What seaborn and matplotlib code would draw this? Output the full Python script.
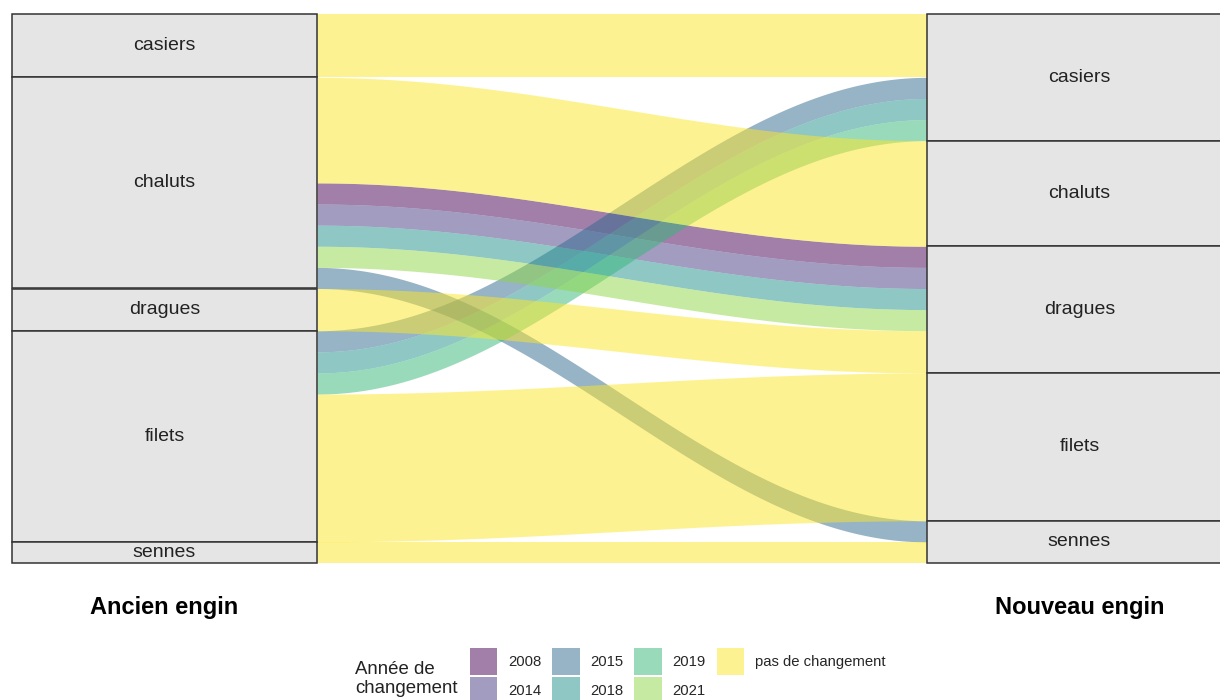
import numpy as np
import pandas as pd
import matplotlib
matplotlib.use("Agg")
import matplotlib.pyplot as plt
from matplotlib.patches import Patch
import seaborn as sns

# ---------------- data ----------------
gears = ["casiers", "chaluts", "dragues", "filets", "sennes"]
years = ["2008", "2014", "2015", "2018", "2019", "2021", "pas de changement"]
year_colors = ["#440154", "#443A83", "#31688E", "#21908C", "#35B779", "#8FD744", "#FDE725"]

flow_from = ["casiers", "chaluts", "chaluts", "chaluts", "chaluts", "chaluts", "chaluts",
             "dragues", "filets", "filets", "filets", "filets", "sennes"]
flow_to = ["casiers", "chaluts", "dragues", "dragues", "dragues", "dragues", "sennes",
           "dragues", "casiers", "casiers", "casiers", "filets", "sennes"]
flow_year = ["pas de changement", "pas de changement", "2008", "2014", "2018", "2021", "2015",
             "pas de changement", "2015", "2018", "2019", "pas de changement", "pas de changement"]
flow_n = [3, 5, 1, 1, 1, 1, 1, 2, 1, 1, 1, 7, 1]

axis_labels = ["Ancien engin", "Nouveau engin"]
legend_title = "Année de\nchangement"

# ---------------- style ----------------
sns.set_theme(style="white")
plt.rcParams["font.family"] = ["Liberation Sans", "DejaVu Sans"]
palette = sns.color_palette(year_colors)

df = pd.DataFrame({"src": flow_from, "dst": flow_to, "year": flow_year, "n": flow_n})
df["si"] = df["src"].map(gears.index)
df["di"] = df["dst"].map(gears.index)
df["yi"] = df["year"].map(years.index)

# positions of flows inside strata (stacked from the top)
left = df.sort_values(["si", "di", "yi"])
df.loc[left.index, "y0"] = (left["n"].cumsum() - left["n"]).values
right = df.sort_values(["di", "si", "yi"])
df.loc[right.index, "y1"] = (right["n"].cumsum() - right["n"]).values

total = df["n"].sum()
left_tot = df.groupby("src")["n"].sum().reindex(gears)
right_tot = df.groupby("dst")["n"].sum().reindex(gears)

fig = plt.figure(figsize=(12.2, 7), dpi=100)
ax = fig.add_axes([0, 0, 1, 1])
W = 1 / 3
unit_px = 549 / total
ax.set_xlim(1 - 164.5 / 915, 1 + (1220 - 164.5) / 915)
ax.set_ylim((700 - 14) / unit_px, -14 / unit_px)
ax.axis("off")

# flows
xa, xb = 1 + W / 2, 2 - W / 2
t = np.linspace(0, 1, 300)
s = (1 - np.cos(np.pi * t)) / 2
xs = xa + (xb - xa) * t
for _, r in df.sort_values("yi").iterrows():
    top = r["y0"] + (r["y1"] - r["y0"]) * s
    ax.fill_between(xs, top, top + r["n"], color=palette[int(r["yi"])], alpha=0.5,
                    linewidth=0, zorder=1)

# strata
for xpos, tots in [(1, left_tot), (2, right_tot)]:
    cum = 0
    for g in gears:
        v = tots[g]
        ax.bar(xpos, v, bottom=cum, width=W, color="#e5e5e5", edgecolor="#333333",
               linewidth=1.1, zorder=3)
        ax.text(xpos, cum + v / 2, g, ha="center", va="center", fontsize=14,
                color="#222222", zorder=4)
        cum += v

# axis titles
ylab = (607.5 - 14) / unit_px
for xpos, lab in zip([1, 2], axis_labels):
    ax.text(xpos, ylab, lab, ha="center", va="center", fontsize=17,
            fontweight="bold", color="black")

# legend
handles = [Patch(facecolor=palette[i], alpha=0.5, edgecolor="none", label=y)
           for i, y in enumerate(years)]
fig.legend(handles=handles, loc="upper left",
           bbox_to_anchor=(470 / 1220, 1 - 648 / 700), bbox_transform=fig.transFigure,
           ncol=4, frameon=False, fontsize=10.7, handlelength=1.85, handleheight=2.45,
           handletextpad=0.7, columnspacing=0.75, labelspacing=0.13,
           borderpad=0, borderaxespad=0)
fig.text(355 / 1220, 1 - 679 / 700, legend_title, ha="left", va="center",
         fontsize=13.4, linespacing=1.1, color="#222222")

fig.savefig("out.png", dpi=100)
